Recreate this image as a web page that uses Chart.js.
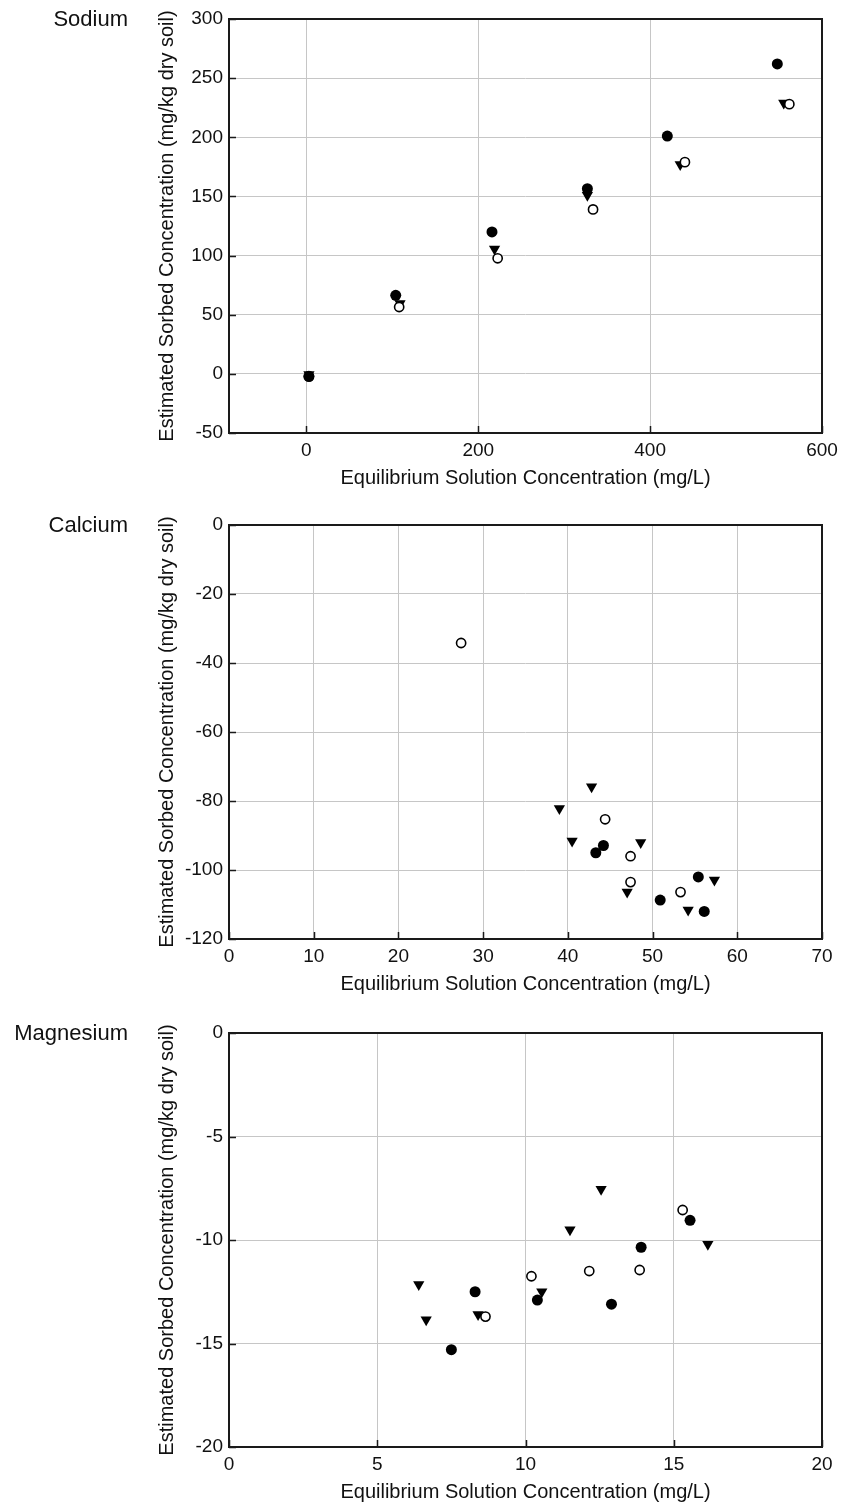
<!DOCTYPE html>
<html><head><meta charset="utf-8">
<script src="https://cdn.jsdelivr.net/npm/chart.js@4.4.1/dist/chart.umd.min.js"></script>
<style>
html,body{margin:0;padding:0;background:#fff;overflow:hidden;width:841px;height:1509px}
.panel{position:absolute;left:0;width:841px;height:507px}
.panel canvas{position:absolute;left:0;top:0}
.label{position:absolute;right:713px;top:6px;font:22px "Liberation Sans",Arial,Helvetica,sans-serif;color:#111;line-height:26px;white-space:nowrap}
</style></head><body>
<div class="panel" style="top:0"><canvas id="c1" width="841" height="507"></canvas><div class="label">Sodium</div></div>
<div class="panel" style="top:506px"><canvas id="c2" width="841" height="507"></canvas><div class="label">Calcium</div></div>
<div class="panel" style="top:1014px"><canvas id="c3" width="841" height="507"></canvas><div class="label">Magnesium</div></div>
<script>
// ---- Sodium ----
const naFilledX = [3, 104, 216, 327, 420, 548];
const naFilledY = [-2.3, 66.4, 120, 156.5, 201, 262];
const naOpenX = [3, 108, 222.6, 333.6, 440.5, 562];
const naOpenY = [-2, 56.5, 97.7, 139, 179, 228];
const naTriX = [3, 109, 219, 327, 435, 555.5];
const naTriY = [-0.5, 59.5, 105.5, 151, 177, 229];
const naXTicks = [0, 200, 400, 600];
const naYTicks = [-50, 0, 50, 100, 150, 200, 250, 300];

// ---- Calcium ----
const caFilledX = [43.3, 44.2, 50.9, 55.4, 56.1];
const caFilledY = [-95, -92.9, -108.7, -102, -112];
const caOpenX = [27.4, 44.4, 47.4, 47.4, 53.3];
const caOpenY = [-34.2, -85.3, -96, -103.5, -106.4];
const caTriX = [39.0, 40.5, 42.8, 47.0, 48.6, 54.2, 57.3];
const caTriY = [-82.2, -91.6, -75.9, -106.4, -92.0, -111.6, -102.9];
const caXTicks = [0, 10, 20, 30, 40, 50, 60, 70];
const caYTicks = [-120, -100, -80, -60, -40, -20, 0];

// ---- Magnesium ----
const mgFilledX = [7.5, 8.3, 10.4, 12.9, 13.9, 15.55];
const mgFilledY = [-15.3, -12.5, -12.9, -13.1, -10.35, -9.05];
const mgOpenX = [8.65, 10.2, 12.15, 13.85, 15.3];
const mgOpenY = [-13.7, -11.75, -11.5, -11.45, -8.55];
const mgTriX = [6.4, 6.65, 8.4, 10.55, 11.5, 12.55, 16.15];
const mgTriY = [-12.15, -13.85, -13.6, -12.5, -9.5, -7.55, -10.2];
const mgXTicks = [0, 5, 10, 15, 20];
const mgYTicks = [-20, -15, -10, -5, 0];

const xTitle = 'Equilibrium Solution Concentration (mg/L)';
const yTitle = 'Estimated Sorbed Concentration (mg/kg dry soil)';

const FONT = '"Liberation Sans", Arial, Helvetica, sans-serif';
const TXT = '#111';

const framePlugin = {
  id: 'frame',
  afterDraw(chart) {
    const ctx = chart.ctx, a = chart.chartArea;
    const sx = chart.scales.x, sy = chart.scales.y;
    ctx.save();
    ctx.strokeStyle = '#1a1a1a';
    ctx.lineWidth = 1.5;
    ctx.beginPath();
    sx.ticks.forEach(t => {
      const p = Math.round(sx.getPixelForValue(t.value)) + 0.5;
      ctx.moveTo(p, a.bottom); ctx.lineTo(p, a.bottom - 7);
    });
    sy.ticks.forEach(t => {
      const p = Math.round(sy.getPixelForValue(t.value)) + 0.5;
      ctx.moveTo(a.left, p); ctx.lineTo(a.left + 7, p);
    });
    ctx.stroke();
    ctx.lineWidth = 2;
    ctx.strokeRect(a.left, a.top, a.right - a.left, a.bottom - a.top);
    ctx.restore();
  }
};

function pts(xs, ys) { return xs.map((x, i) => ({x: x, y: ys[i]})); }

function makeChart(id, fx, fy, ox, oy, tx, ty, xMin, xMax, yMin, yMax, xTicks, yTicks) {
  new Chart(document.getElementById(id), {
    type: 'scatter',
    data: {
      datasets: [
        {data: pts(fx, fy), pointStyle: 'circle', pointRadius: 5.5, pointBackgroundColor: '#000', pointBorderColor: '#000', pointBorderWidth: 0},
        {data: pts(ox, oy), pointStyle: 'circle', pointRadius: 4.6, pointBackgroundColor: '#fff', pointBorderColor: '#000', pointBorderWidth: 1.6},
        {data: pts(tx, ty), pointStyle: 'triangle', pointRotation: 180, pointRadius: 6.5, pointBackgroundColor: '#000', pointBorderColor: '#000', pointBorderWidth: 0}
      ]
    },
    options: {
      responsive: false,
      animation: false,
      events: [],
      layout: {padding: {left: 0, right: 19, top: 19, bottom: 0}},
      plugins: {legend: {display: false}, tooltip: {enabled: false}},
      scales: {
        x: {
          type: 'linear', min: xMin, max: xMax,
          afterBuildTicks: s => { s.ticks = xTicks.map(v => ({value: v})); },
          afterFit: s => { s.height = 74; s.paddingLeft = 0; s.paddingRight = 0; },
          grid: {color: '#c6c6c6', lineWidth: 1, drawTicks: false},
          border: {display: false},
          ticks: {font: {family: FONT, size: 19}, color: TXT, padding: 6, maxRotation: 0, autoSkip: false},
          title: {display: true, text: xTitle, font: {family: FONT, size: 20}, color: TXT, padding: {top: 0, bottom: 17}}
        },
        y: {
          type: 'linear', min: yMin, max: yMax,
          afterBuildTicks: s => { s.ticks = yTicks.map(v => ({value: v})); },
          afterFit: s => { s.width = 229; s.paddingTop = 0; s.paddingBottom = 0; },
          grid: {color: '#c6c6c6', lineWidth: 1, drawTicks: false},
          border: {display: false},
          ticks: {font: {family: FONT, size: 19}, color: TXT, padding: 6, autoSkip: false},
          title: {display: true, text: yTitle, font: {family: FONT, size: 20}, color: TXT, padding: {top: 155, bottom: 0}}
        }
      }
    },
    plugins: [framePlugin]
  });
}

makeChart('c1', naFilledX, naFilledY, naOpenX, naOpenY, naTriX, naTriY, -90, 600, -50, 300, naXTicks, naYTicks);
makeChart('c2', caFilledX, caFilledY, caOpenX, caOpenY, caTriX, caTriY, 0, 70, -120, 0, caXTicks, caYTicks);
makeChart('c3', mgFilledX, mgFilledY, mgOpenX, mgOpenY, mgTriX, mgTriY, 0, 20, -20, 0, mgXTicks, mgYTicks);
</script>
</body></html>
